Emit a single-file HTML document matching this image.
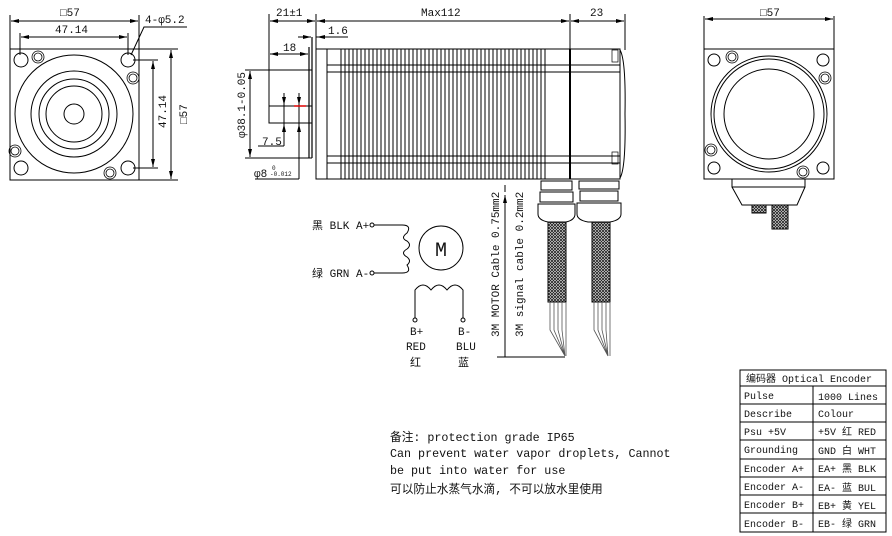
<!DOCTYPE html>
<html><head><meta charset="utf-8"><style>
body{margin:0;background:#fff;width:892px;height:536px;overflow:hidden}
svg{display:block}
text{font-family:"Liberation Mono","Noto Sans CJK SC",monospace;fill:#111}
</style></head><body>
<svg width="892" height="536" viewBox="0 0 892 536" xmlns="http://www.w3.org/2000/svg">
<defs>
<pattern id="mesh" width="3" height="3" patternUnits="userSpaceOnUse"><rect width="3" height="3" fill="#fff"/><path d="M0 0L3 3M3 0L0 3" stroke="#222" stroke-width="0.9"/></pattern>
<marker id="a" markerWidth="8" markerHeight="6" refX="8" refY="3" orient="auto-start-reverse"><path d="M0 1L8 3L0 5z" fill="#000"/></marker>
</defs>
<g stroke="#000" fill="none" stroke-width="1">
<!-- LEFT VIEW -->
<rect x="10" y="49" width="129" height="131"/>
<circle cx="74" cy="114" r="59"/><circle cx="74" cy="114" r="43"/><circle cx="74" cy="114" r="35"/><circle cx="74" cy="114" r="28"/><circle cx="74" cy="114" r="10"/>
<circle cx="21" cy="60" r="7"/><circle cx="128" cy="60" r="7"/><circle cx="21" cy="168" r="7"/><circle cx="128" cy="168" r="7"/>
<g stroke-width="0.8"><circle cx="38" cy="57" r="6"/><circle cx="38" cy="57" r="4"/><circle cx="133" cy="78" r="6"/><circle cx="133" cy="78" r="4"/><circle cx="15" cy="151" r="6"/><circle cx="15" cy="151" r="4"/><circle cx="110" cy="173" r="6"/><circle cx="110" cy="173" r="4"/></g>
<line x1="10" y1="15" x2="10" y2="49"/><line x1="139" y1="15" x2="139" y2="49"/>
<line x1="11" y1="21" x2="138" y2="21" marker-start="url(#a)" marker-end="url(#a)"/>
<line x1="20" y1="33" x2="20" y2="55"/><line x1="128" y1="33" x2="128" y2="55"/>
<line x1="21" y1="37" x2="127" y2="37" marker-start="url(#a)" marker-end="url(#a)"/>
<polyline points="131,55 144,27 187,27"/>
<line x1="139" y1="49" x2="178" y2="49"/><line x1="139" y1="180" x2="178" y2="180"/>
<line x1="171" y1="50" x2="171" y2="179" marker-start="url(#a)" marker-end="url(#a)"/>
<line x1="133" y1="60" x2="158" y2="60"/><line x1="133" y1="168" x2="158" y2="168"/>
<line x1="153" y1="61" x2="153" y2="167" marker-start="url(#a)" marker-end="url(#a)"/>
<!-- SIDE VIEW -->
<rect x="316" y="49" width="304" height="130"/>
<line x1="327" y1="49" x2="327" y2="179"/>
<path d="M327 65H620M327 72H620M327 156H620M327 163H620"/>
<line x1="570" y1="49" x2="570" y2="179" stroke-width="2"/>
<path d="M620 50Q626 60 625 114Q626 168 620 178"/>
<rect x="612" y="50" width="6" height="12" stroke-width="0.7"/><rect x="612" y="152" width="6" height="12" stroke-width="0.7"/>
<rect x="269" y="106" width="43" height="17"/>
<line x1="309" y1="47" x2="309" y2="158" stroke-width="1.2"/><line x1="312" y1="37" x2="312" y2="158" stroke-width="1.2"/>
<line x1="269" y1="14" x2="269" y2="106"/><line x1="316" y1="14" x2="316" y2="49"/><line x1="570" y1="14" x2="570" y2="49"/><line x1="625" y1="14" x2="625" y2="50"/>
<line x1="270" y1="21" x2="315" y2="21" marker-start="url(#a)" marker-end="url(#a)"/>
<line x1="317" y1="21" x2="569" y2="21" marker-start="url(#a)" marker-end="url(#a)"/>
<line x1="571" y1="21" x2="624" y2="21" marker-start="url(#a)" marker-end="url(#a)"/>
<line x1="298" y1="37" x2="311" y2="37" marker-end="url(#a)"/><line x1="316" y1="37" x2="348" y2="37"/><line x1="336" y1="37" x2="317" y2="37" marker-end="url(#a)"/>
<line x1="270" y1="54" x2="308" y2="54" marker-start="url(#a)" marker-end="url(#a)"/>
<line x1="245" y1="70" x2="312" y2="70"/><line x1="245" y1="158" x2="312" y2="158"/>
<line x1="250" y1="71" x2="250" y2="157" marker-start="url(#a)" marker-end="url(#a)"/>
<line x1="284" y1="93" x2="284" y2="146"/><line x1="284" y1="93" x2="284" y2="105" marker-end="url(#a)"/><line x1="284" y1="136" x2="284" y2="124" marker-end="url(#a)"/>
<line x1="299" y1="93" x2="299" y2="179"/><line x1="299" y1="93" x2="299" y2="105" marker-end="url(#a)"/><line x1="299" y1="136" x2="299" y2="124" marker-end="url(#a)"/>
<line x1="258" y1="146" x2="284" y2="146"/><line x1="255" y1="179" x2="299" y2="179"/>
<line x1="294" y1="106" x2="306" y2="106" stroke="#d00" stroke-width="1.5"/>
</g>
<!-- fins -->
<g stroke="#000" stroke-width="1"><path d="M341 49V179M345 49V179M349 49V179M353 49V179M357 49V179M361 49V179M365 49V179M369 49V179M373 49V179M377 49V179M381 49V179M385 49V179M389 49V179M393 49V179M397 49V179M401 49V179M405 49V179M409 49V179M413 49V179M417 49V179M421 49V179M425 49V179M429 49V179M433 49V179M437 49V179M441 49V179M445 49V179M449 49V179M453 49V179M457 49V179M461 49V179M465 49V179M469 49V179M473 49V179M477 49V179M481 49V179M485 49V179M489 49V179M493 49V179M497 49V179M501 49V179M505 49V179M509 49V179M513 49V179M517 49V179M521 49V179M525 49V179M529 49V179M533 49V179M537 49V179M541 49V179M545 49V179"/></g>
<!-- glands & cables -->
<g stroke="#000" fill="#fff" stroke-width="1">
<rect x="541" y="181" width="31" height="9"/><rect x="540" y="192" width="33" height="10"/><path d="M538 204H575V214Q575 220 566 222H548Q538 220 538 214Z"/>
<rect x="579" y="181" width="40" height="8"/><rect x="580" y="191" width="38" height="10"/><path d="M577 203H621V214Q621 220 610 222H588Q577 220 577 214Z"/>
<rect x="548" y="222" width="18" height="80" fill="url(#mesh)"/><rect x="592" y="222" width="18" height="80" fill="url(#mesh)"/>
</g>
<g stroke="#555" stroke-width="0.8" fill="none"><path d="M550 302V330L565 356M554 302V330L565 356M558 302V330L565 356M562 302V330L565 356M566 302V356"/><path d="M594 302V330L608 356M598 302V330L608 356M602 302V330L608 356M606 302V330L608 356M610 302V356"/></g>
<g stroke="#000" fill="none"><line x1="505" y1="195" x2="505" y2="357" marker-start="url(#a)"/><line x1="497" y1="357" x2="565" y2="357"/><line x1="505" y1="192" x2="505" y2="185"/></g>
<!-- schematic -->
<g stroke="#000" fill="none" stroke-width="1">
<circle cx="372" cy="225" r="2"/><circle cx="372" cy="273" r="2"/>
<path d="M374 225H402Q412 225 407 233Q400 238 407 241Q412 245 407 249Q400 253 407 257Q412 261 407 265Q412 273 402 273H374"/>
<circle cx="441" cy="248" r="22"/>
<path d="M415 318V290Q423 280 431 290Q439 280 447 290Q455 280 463 290V318"/>
<circle cx="415" cy="320" r="2"/><circle cx="463" cy="320" r="2"/>
</g>
<text x="441" y="256" font-size="20" text-anchor="middle" font-family="Liberation Sans">M</text>
<g font-size="11"><text x="312" y="229">黑 BLK A+</text><text x="312" y="277">绿 GRN A-</text>
<text x="410" y="335">B+</text><text x="406" y="350">RED</text><text x="410" y="366">红</text>
<text x="458" y="335">B-</text><text x="456" y="350">BLU</text><text x="458" y="366">蓝</text></g>
<text transform="translate(499,337) rotate(-90)" font-size="11">3M MOTOR Cable 0.75mm2</text>
<text transform="translate(523,337) rotate(-90)" font-size="11">3M signal cable 0.2mm2</text>
<!-- RIGHT VIEW -->
<g stroke="#000" fill="none">
<rect x="704" y="49" width="130" height="130"/>
<circle cx="769" cy="114" r="58"/><circle cx="769" cy="114" r="55"/><circle cx="769" cy="114" r="45"/>
<circle cx="714" cy="60" r="6"/><circle cx="823" cy="60" r="6"/><circle cx="714" cy="168" r="6"/><circle cx="823" cy="168" r="6"/>
<g stroke-width="0.8"><circle cx="732" cy="57" r="6"/><circle cx="732" cy="57" r="4"/><circle cx="825" cy="78" r="6"/><circle cx="825" cy="78" r="4"/><circle cx="711" cy="150" r="6"/><circle cx="711" cy="150" r="4"/><circle cx="803" cy="172" r="6"/><circle cx="803" cy="172" r="4"/></g>
<path d="M704 16V49M834 16V49"/><line x1="705" y1="19" x2="833" y2="19" marker-start="url(#a)" marker-end="url(#a)"/>
<path d="M732 179V187H805V179M732 187L742 205H797L805 187"/>
<rect x="752" y="205" width="14" height="8" fill="url(#mesh)"/><rect x="772" y="205" width="16" height="24" fill="url(#mesh)"/>
</g>
<!-- dimension texts -->
<g font-size="11">
<text x="60" y="16">□57</text><text x="55" y="33">47.14</text><text x="145" y="23">4-φ5.2</text>
<text transform="translate(187,124) rotate(-90)">□57</text>
<text transform="translate(166,128) rotate(-90)">47.14</text>
<text x="276" y="16">21±1</text><text x="421" y="16">Max112</text><text x="590" y="16">23</text>
<text x="328" y="34">1.6</text><text x="283" y="51">18</text><text x="262" y="145">7.5</text>
<text x="254" y="177">φ8</text><text x="272" y="170" font-size="6">0</text><text x="270" y="176" font-size="6">-0.012</text>
<text transform="translate(245,138) rotate(-90)">φ38.1-0.05</text>
<text x="760" y="16">□57</text>
</g>
<!-- note -->
<g font-size="11.7"><text x="390" y="441">备注: protection grade IP65</text><text x="390" y="457">Can prevent water vapor droplets, Cannot</text><text x="390" y="474">be put into water for use</text><text x="390" y="493">可以防止水蒸气水滴, 不可以放水里使用</text></g>
<!-- table -->
<g stroke="#000" fill="none"><rect x="740" y="370" width="146" height="162"/>
<path d="M740 386H886M740 404H886M740 422H886M740 440H886M740 459H886M740 477H886M740 495H886M740 513H886M813 386V532"/></g>
<g font-size="10"><text x="746" y="382">编码器 Optical Encoder</text>
<text x="744" y="399">Pulse</text><text x="818" y="400">1000 Lines</text>
<text x="744" y="417">Describe</text><text x="818" y="417">Colour</text>
<text x="744" y="435">Psu +5V</text><text x="818" y="435">+5V 红 RED</text>
<text x="744" y="453">Grounding</text><text x="818" y="454">GND 白 WHT</text>
<text x="744" y="472">Encoder A+</text><text x="818" y="472">EA+ 黑 BLK</text>
<text x="744" y="490">Encoder A-</text><text x="818" y="491">EA- 蓝 BUL</text>
<text x="744" y="508">Encoder B+</text><text x="818" y="509">EB+ 黄 YEL</text>
<text x="744" y="527">Encoder B-</text><text x="818" y="527">EB- 绿 GRN</text></g>
</svg>
</body></html>
